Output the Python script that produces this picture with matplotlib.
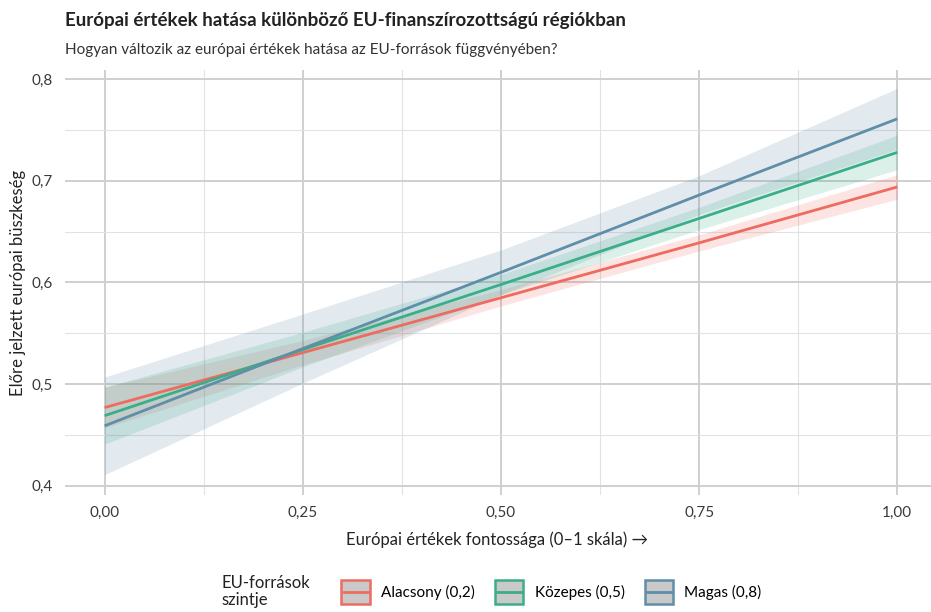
import matplotlib
matplotlib.use("Agg")
import matplotlib.pyplot as plt
from matplotlib.patches import Rectangle
from matplotlib.lines import Line2D
from matplotlib.ticker import FuncFormatter, MultipleLocator

plt.rcParams['font.family'] = ['Lato', 'DejaVu Sans']

# data
x = [0.0, 0.25, 0.5, 0.75, 1.0]
groups = ['Alacsony (0,2)', 'Közepes (0,5)', 'Magas (0,8)']
colors = ['#ee6b60', '#3aae88', '#5f8ea8']

fit_low = [0.477, 0.531, 0.585, 0.639, 0.694]
lo_low = [0.457, 0.519, 0.577, 0.631, 0.682]
hi_low = [0.497, 0.543, 0.593, 0.647, 0.706]

fit_mid = [0.469, 0.534, 0.598, 0.663, 0.728]
lo_mid = [0.441, 0.517, 0.588, 0.652, 0.711]
hi_mid = [0.497, 0.551, 0.608, 0.674, 0.745]

fit_high = [0.459, 0.535, 0.610, 0.686, 0.761]
lo_high = [0.411, 0.501, 0.588, 0.667, 0.731]
hi_high = [0.507, 0.569, 0.632, 0.705, 0.791]

fits = [fit_low, fit_mid, fit_high]
los = [lo_low, lo_mid, lo_high]
his = [hi_low, hi_mid, hi_high]


class KeyHandler:
	# grey box with coloured border and a line through the middle
	def __init__(self, color):
		self.color = color

	def legend_artist(self, legend, orig_handle, fontsize, handlebox):
		x0, y0 = -handlebox.xdescent, -handlebox.ydescent
		w, h = handlebox.width, handlebox.height
		tr = handlebox.get_transform()
		box = Rectangle((x0, y0), w, h, facecolor='#c9c9c9', edgecolor=self.color,
			linewidth=1.8, transform=tr)
		ln = Line2D([x0 + 1.5, x0 + w - 1.5], [y0 + h / 2, y0 + h / 2], color=self.color,
			lw=2, transform=tr)
		handlebox.add_artist(box)
		handlebox.add_artist(ln)
		return box


fig = plt.figure(figsize=(9.31, 6.12), dpi=100)
ax = fig.add_axes([0.0698, 0.1912, 0.9366, 0.6944])

for i in range(3):
	ax.fill_between(x, los[i], his[i], color=colors[i], alpha=0.18, linewidth=0, zorder=2)
for i in range(3):
	ax.plot(x, fits[i], color=colors[i], lw=2.0, zorder=3, solid_capstyle='butt')

ax.set_xlim(-0.05, 1.05)
ax.set_ylim(0.391, 0.809)
ax.xaxis.set_major_locator(MultipleLocator(0.25))
ax.xaxis.set_minor_locator(MultipleLocator(0.125))
ax.yaxis.set_major_locator(MultipleLocator(0.1))
ax.yaxis.set_minor_locator(MultipleLocator(0.05))
ax.xaxis.set_major_formatter(FuncFormatter(lambda v, p: ('%.2f' % v).replace('.', ',')))
ax.yaxis.set_major_formatter(FuncFormatter(lambda v, p: ('%.1f' % v).replace('.', ',')))

ax.grid(which='major', color='#cfcfcf', lw=1.4, zorder=0)
ax.grid(which='minor', color='#e2e2e2', lw=0.8, zorder=0)
ax.set_axisbelow(True)
for s in ax.spines.values():
	s.set_visible(False)
ax.tick_params(which='both', length=0, colors='#3a3a3a', labelsize=11)
ax.tick_params(axis='y', pad=9)
ax.tick_params(axis='x', pad=8)

ax.set_xlabel('Európai értékek fontossága (0–1 skála) →', fontsize=12, color='#222222')
ax.set_ylabel('Előre jelzett európai büszkeség', fontsize=12, color='#222222')
ax.xaxis.set_label_coords(0.4954, -0.085)
ax.yaxis.set_label_coords(-0.045, 0.5)

fig.text(0.0698, 0.967, 'Európai értékek hatása különböző EU-finanszírozottságú régiókban',
	fontsize=13.5, color='#222222', weight='bold', va='center')
fig.text(0.0698, 0.918, 'Hogyan változik az európai értékek hatása az EU-források függvényében?',
	fontsize=11, color='#333333', va='center')

keys = [Rectangle((0, 0), 1, 1) for c in colors]
hmap = {keys[i]: KeyHandler(colors[i]) for i in range(3)}
leg = fig.legend(keys, groups, loc='center left', bbox_to_anchor=(0.352, 0.033), ncol=3,
	frameon=False, fontsize=11, handler_map=hmap,
	handlelength=1.85, handleheight=2.0, columnspacing=1.3, handletextpad=0.75)
fig.text(0.238, 0.033, 'EU-források\nszintje', fontsize=12, color='#222222', va='center', linespacing=1.1)

fig.savefig('out.png', dpi=100)
